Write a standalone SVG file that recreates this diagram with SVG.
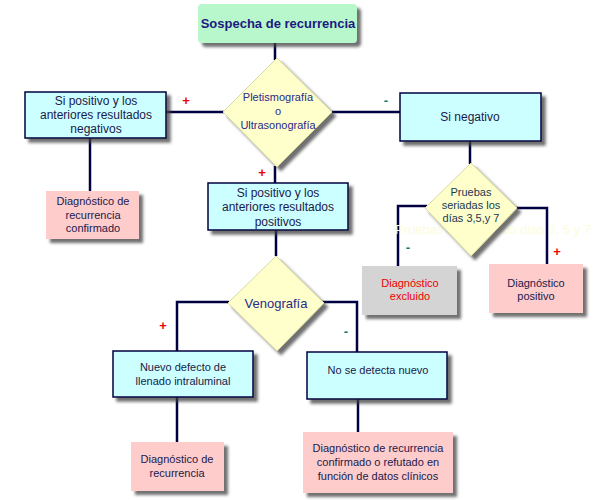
<svg xmlns="http://www.w3.org/2000/svg" width="600" height="500" viewBox="0 0 600 500">
<defs>
<filter id="sh" x="-20%" y="-20%" width="150%" height="150%">
<feDropShadow dx="4" dy="4" stdDeviation="1.5" flood-color="#404040" flood-opacity="0.75"/>
</filter>
</defs>
<style>
text{font-family:"Liberation Sans",Arial,sans-serif;text-anchor:middle}
.box{fill:#ccffff;stroke:#000040;stroke-width:1.5;filter:url(#sh)}
.pink{fill:#ffcccc;filter:url(#sh)}
.gray{fill:#d4d4d4;filter:url(#sh)}
.dia{fill:#ffffcc;stroke:#d8d8a0;stroke-width:1;filter:url(#sh)}
.t{font-size:12px;fill:#1a1a4a}
.s{font-size:11px;fill:#1a1a4a}
.d{font-size:11px;fill:#2a2a88}
.c{fill:none;stroke:#000040;stroke-width:2.5}
.plus{font-size:13px;font-weight:bold;fill:#ee0000}
.minus{font-size:13px;font-weight:bold;fill:#008080}
</style>
<rect width="600" height="500" fill="#ffffff"/>
<g id="connectors">
<path class="c" d="M275,43 V60"/>
<path class="c" d="M166,112 H225"/>
<path class="c" d="M332,112 H400"/>
<path class="c" d="M275,166 V183"/>
<path class="c" d="M90,138 V191"/>
<path class="c" d="M470,141 V164"/>
<path class="c" d="M427,206 H398 V266"/>
<path class="c" d="M515,208 H547 V264"/>
<path class="c" d="M276,230 V256"/>
<path class="c" d="M229,302 H177 V351"/>
<path class="c" d="M318,302 H357 V352"/>
<path class="c" d="M177,397 V442"/>
<path class="c" d="M358,399 V432"/>
</g>
<g id="labels">
<text class="plus" x="186" y="105">+</text>
<text class="minus" x="386" y="105">-</text>
<text class="plus" x="262" y="177">+</text>
<text class="minus" x="408" y="252">-</text>
<text class="plus" x="557" y="256">+</text>
<text class="plus" x="163" y="330">+</text>
<text class="minus" x="346" y="336">-</text>
</g>
<g id="n_sospecha">
<rect x="198" y="4" width="159" height="39" rx="4" fill="#b8f7cc" filter="url(#sh)"/>
<text x="278" y="28" style="font-size:13px;font-weight:bold;fill:#1a1a80">Sospecha de recurrencia</text>
</g>
<g id="n_pletismo">
<polygon class="dia" points="277,58 332,112 277,167 223,112"/>
<text class="d" x="278" y="101">Pletismografía</text>
<text class="d" x="278" y="115">o</text>
<text class="d" x="278" y="129">Ultrasonografía</text>
</g>
<g id="n_posneg">
<rect class="box" x="25" y="92" width="141" height="46"/>
<text class="t" x="96" y="105">Si positivo y los</text>
<text class="t" x="96" y="119">anteriores resultados</text>
<text class="t" x="96" y="133">negativos</text>
</g>
<g id="n_confirmado">
<rect class="pink" x="46" y="191" width="93" height="48"/>
<text class="s" x="93" y="205">Diagnóstico de</text>
<text class="s" x="93" y="219">recurrencia</text>
<text class="s" x="93" y="232">confirmado</text>
</g>
<g id="n_negativo">
<rect class="box" x="400" y="93" width="141" height="48"/>
<text class="t" x="470" y="121">Si negativo</text>
</g>
<text id="ghost" x="493" y="234" style="font-size:13px;fill:#fcfcdc">Pruebas seriadas los días 3, 5 y 7</text>
<g id="n_pruebas">
<polygon class="dia" points="471,163 517,208 471,256 425,208"/>
<text class="d" x="471" y="196" style="fill:#1a3a50">Pruebas</text>
<text class="d" x="471" y="209" style="fill:#1a3a50">seriadas los</text>
<text class="d" x="471" y="222" style="fill:#1a3a50">días 3,5,y 7</text>
</g>
<g id="n_excluido">
<rect class="gray" x="362" y="266" width="95" height="49"/>
<text class="s" x="410" y="287" style="fill:#ee0000">Diagnóstico</text>
<text class="s" x="410" y="300" style="fill:#ee0000">excluido</text>
</g>
<g id="n_positivo">
<rect class="pink" x="489" y="264" width="94" height="49"/>
<text class="s" x="536" y="287">Diagnóstico</text>
<text class="s" x="536" y="300">positivo</text>
</g>
<g id="n_pospos">
<rect class="box" x="208" y="183" width="140" height="47"/>
<text class="t" x="278" y="197">Si positivo y los</text>
<text class="t" x="278" y="211">anteriores resultados</text>
<text class="t" x="278" y="226">positivos</text>
</g>
<g id="n_venografia">
<polygon class="dia" points="276,256 324,303 277,351 228,303"/>
<text x="276" y="308" style="font-size:13px;fill:#2a2a88">Venografía</text>
</g>
<g id="n_nuevo">
<rect class="box" x="113" y="351" width="140" height="46"/>
<text class="s" x="183" y="371">Nuevo defecto de</text>
<text class="s" x="183" y="385">llenado intraluminal</text>
</g>
<g id="n_nodetecta">
<rect class="box" x="307" y="352" width="140" height="47"/>
<text class="s" x="378" y="374">No se detecta nuevo</text>
</g>
<g id="n_recurrencia">
<rect class="pink" x="131" y="442" width="93" height="49"/>
<text class="s" x="177" y="463">Diagnóstico de</text>
<text class="s" x="177" y="477">recurrencia</text>
</g>
<g id="n_clinicos">
<rect class="pink" x="303" y="432" width="150" height="61"/>
<text class="s" x="378" y="452">Diagnóstico de recurrencia</text>
<text class="s" x="378" y="466">confirmado o refutado en</text>
<text class="s" x="378" y="480">función de datos clínicos</text>
</g>
</svg>
